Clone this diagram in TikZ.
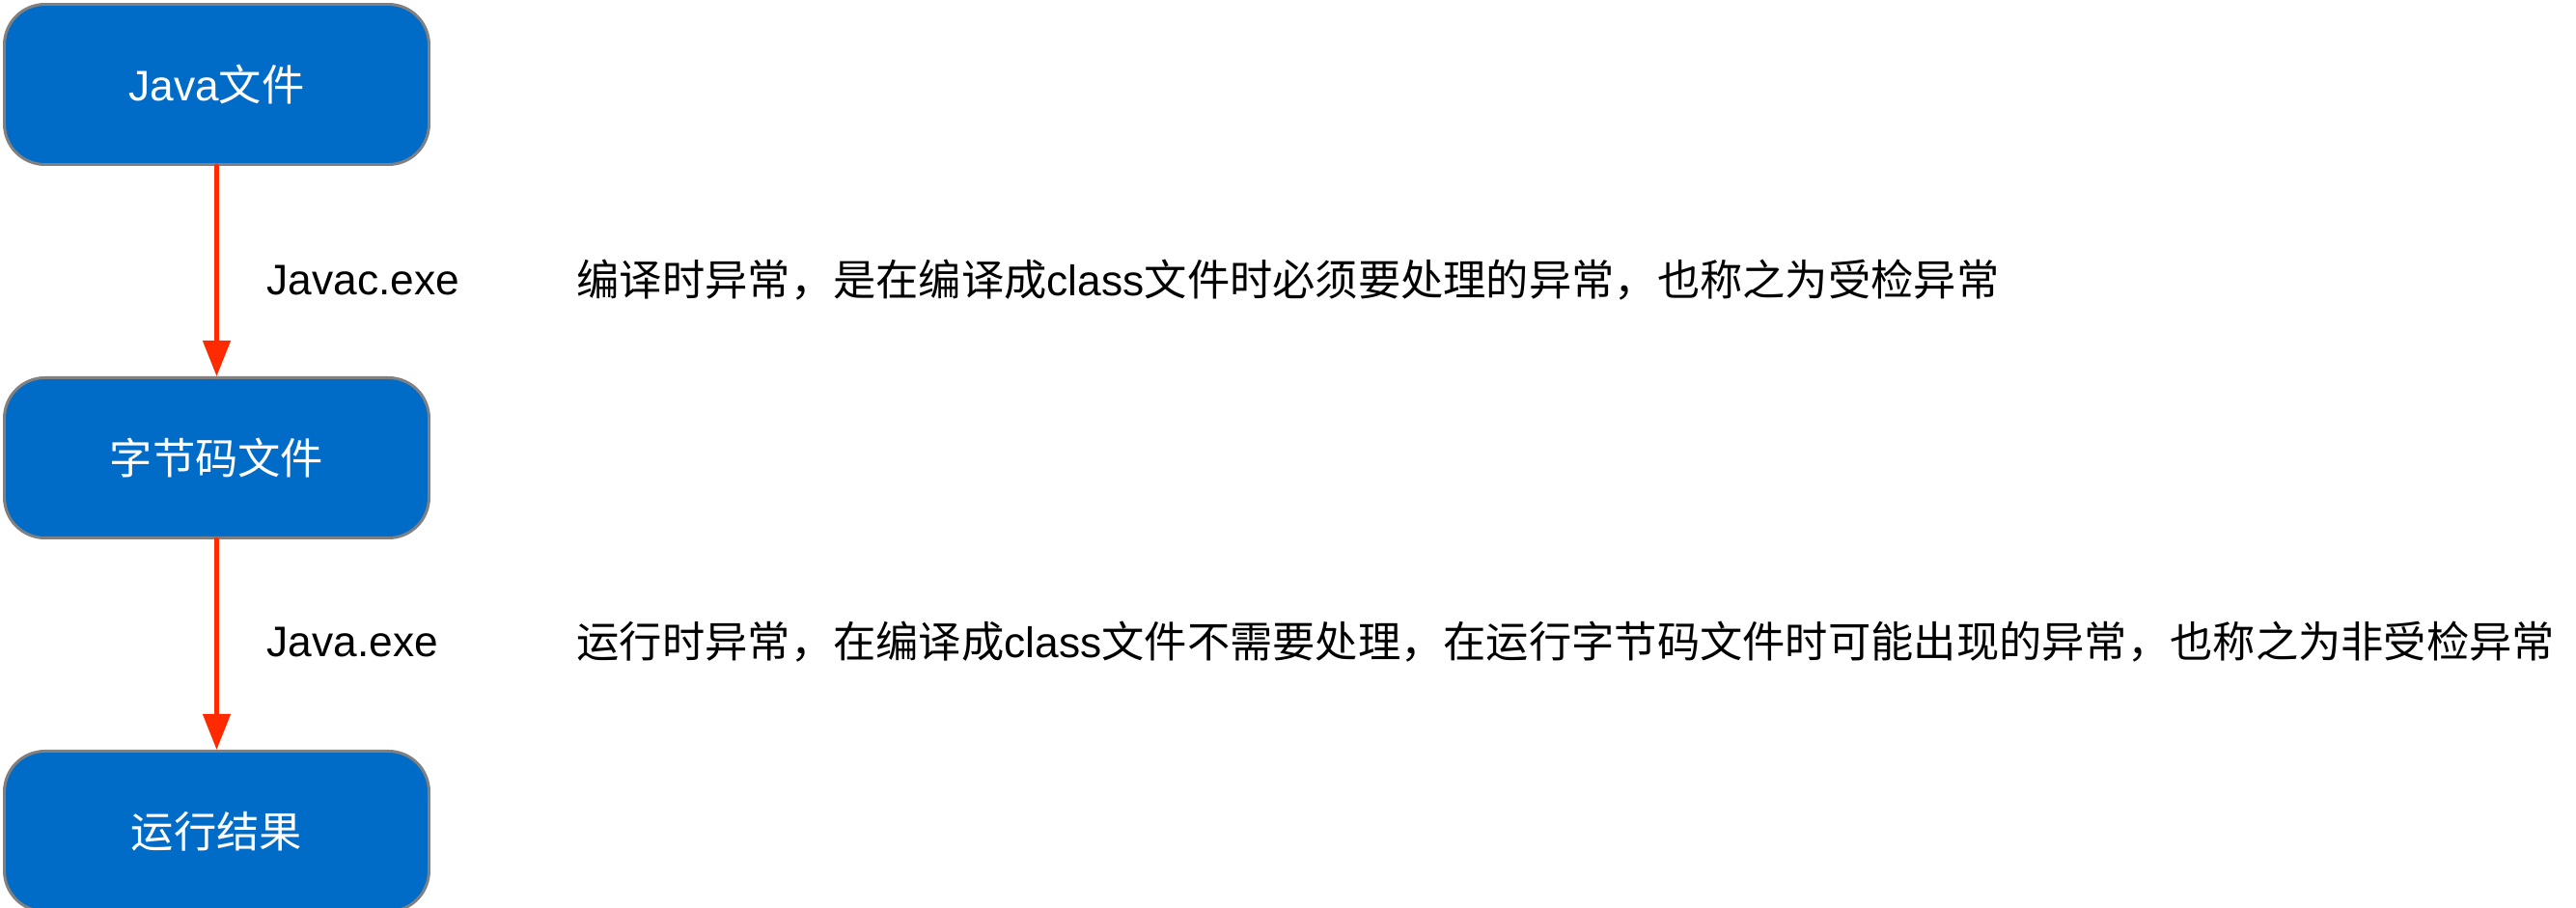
\documentclass[tikz,border=0pt]{standalone}
\usepackage{fontspec}
\setmainfont{Liberation Sans}
\newfontfamily\cjk{Noto Sans CJK SC}
\usepackage{tikz}
\usetikzlibrary{arrows.meta,positioning}
\definecolor{boxblue}{RGB}{0,108,200}
\definecolor{boxgray}{RGB}{128,128,128}
\definecolor{arrowred}{RGB}{255,42,0}
\tikzset{
  filebox/.style={draw=boxgray,line width=0.85pt,fill=boxblue,rounded corners=0.42cm,
    minimum width=4.40cm,minimum height=1.66cm,inner sep=0pt,text=white,font=\fontsize{12.6}{15}\selectfont},
  flowarrow/.style={->,draw=arrowred,line width=1.3pt},
  notetext/.style={anchor=west,inner sep=0pt,font=\fontsize{12.6}{15}\selectfont}
}
\begin{document}
\begin{tikzpicture}[line cap=round,line join=round,>={Triangle[width=2.8mm,length=3.7mm]},x=1.0cm,y=1.0cm]
\useasboundingbox (0,0) rectangle (26.69,-9.41);
\node[filebox] (java) at (2.245,-0.875) {Java{\cjk 文件}};
\node[filebox,below=2.18cm of java] (bytecode) {{\cjk 字节码文件}};
\node[filebox,below=2.18cm of bytecode] (result) {{\cjk 运行结果}};
\draw [flowarrow] (java) -- (bytecode);
\draw [flowarrow] (bytecode) -- (result);
\node[notetext] (javac) at (2.76,-2.9) {Javac.exe};
\node[notetext] (javaexe) at (2.76,-6.65) {Java.exe};
\node[notetext] (checked) at (5.97,-2.9) {{\cjk 编译时异常，是在编译成}class{\cjk 文件时必须要处理的异常，也称之为受检异常}};
\node[notetext] (unchecked) at (5.97,-6.65) {{\cjk 运行时异常，在编译成}class{\cjk 文件不需要处理，在运行字节码文件时可能出现的异常，也称之为非受检异常}};
\end{tikzpicture}
\end{document}
